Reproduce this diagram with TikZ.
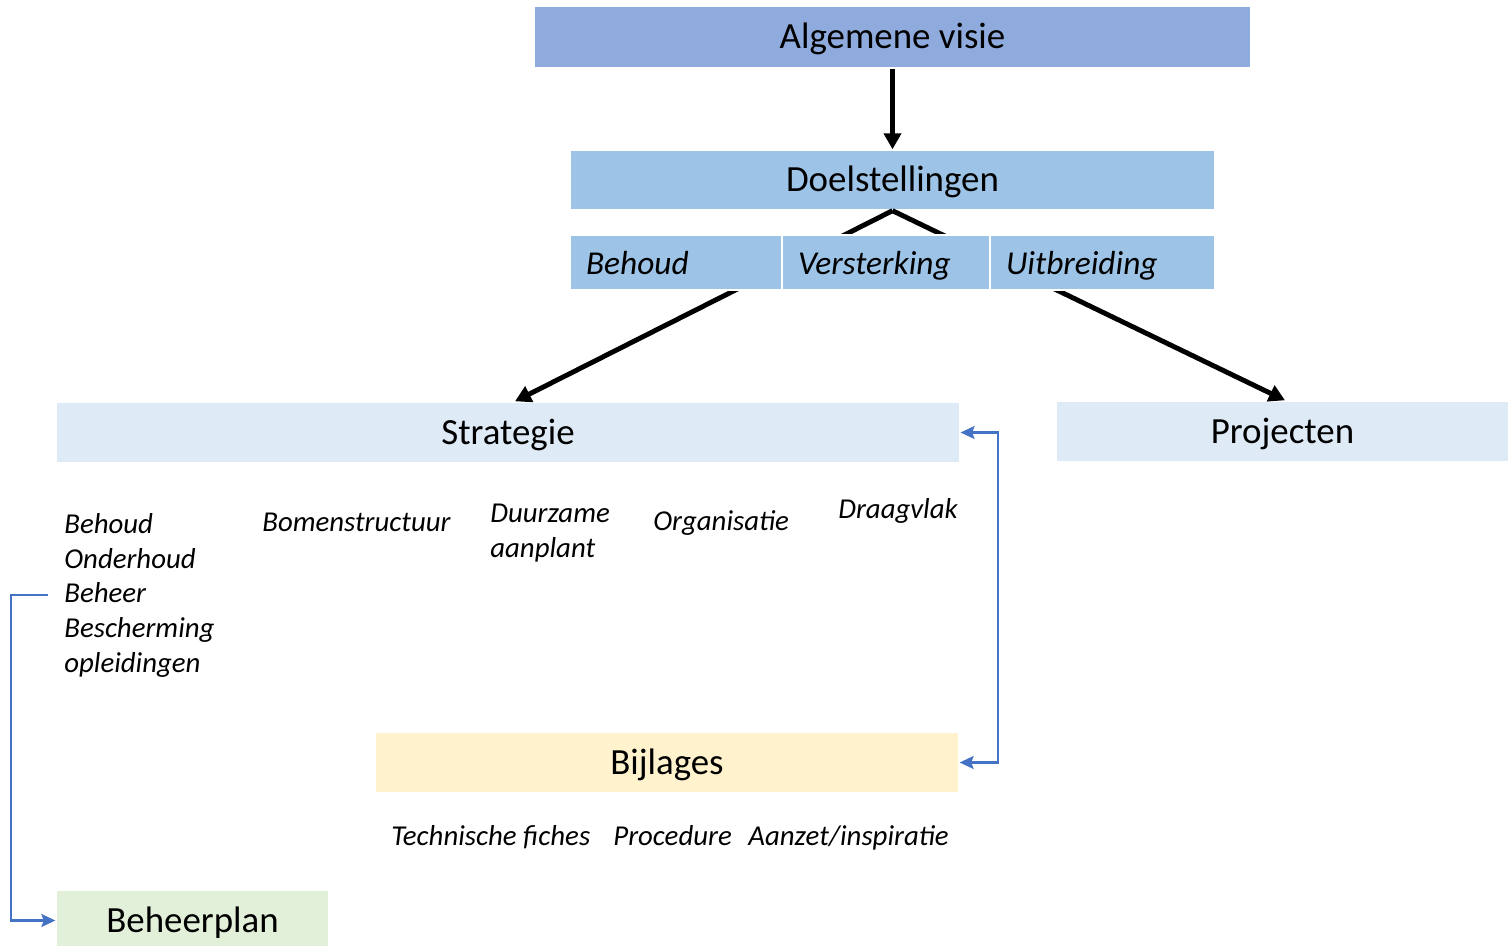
\documentclass[tikz,border=0pt]{standalone}
\usepackage{fontspec}
\setmainfont{Carlito}
\usetikzlibrary{arrows.meta}
\definecolor{visieblue}{HTML}{8FAADC}
\definecolor{doelblue}{HTML}{9DC3E6}
\definecolor{lightblue}{HTML}{DEEBF7}
\definecolor{bijlyellow}{HTML}{FFF2CC}
\definecolor{plangreen}{HTML}{E2F0D9}
\definecolor{linkblue}{HTML}{4472C4}
\tikzset{
  box/.style={fill=#1, draw=white, line width=0.8pt, inner sep=0pt, minimum height=1.22cm, text height=18pt, text depth=4.5pt, font=\fontsize{21}{25}\selectfont},
  tab/.style={fill=doelblue, draw=white, line width=0.8pt, inner xsep=0.32cm, inner ysep=0pt, minimum height=1.1cm, text height=17.5pt, text depth=4pt, align=left, font=\fontsize{19}{22}\selectfont\itshape},
  item/.style={inner sep=0pt, align=left, font=\fontsize{16.4}{19.8}\selectfont\itshape},
  flow/.style={line width=2.8pt, -{Triangle[length=3.2mm,width=3.4mm]}},
  link/.style={line width=1.2pt, linkblue, arrows={-Stealth[length=2.8mm,width=2.6mm,inset=0.5mm]}}
}
\begin{document}
\begin{tikzpicture}[x=0.02cm, y=-0.02cm]
\useasboundingbox (0,0) rectangle (1509,946);
% main boxes
\node[box=visieblue, minimum width=14.34cm, minimum height=1.24cm] (visie) at (892.5,37) {Algemene visie};
\node[box=doelblue, minimum width=12.9cm, minimum height=1.2cm] (doel) at (892.5,180) {Doelstellingen};
\node[box=lightblue, minimum width=18.08cm] (strat) at (508,432.5) {Strategie};
\node[box=lightblue, minimum width=9.06cm] (proj) at (1282.5,431.5) {Projecten};
\node[box=bijlyellow, minimum width=11.68cm] (bijl) at (667,762.5) {Bijlages};
\node[box=plangreen, minimum width=5.46cm] (plan) at (192.5,920.5) {Beheerplan};
% arrows
\draw[flow] (visie.south) -- (doel.north);
\draw[flow] (doel.south) -- ([xshift=0.14cm]strat.north);
\draw[flow] (doel.south) -- ([xshift=0.05cm]proj.north);
% tabs over the arrows
\node[tab, text width=3.6cm] (behoud) at (676,262.5) {Behoud};
\node[tab, text width=3.52cm] (verst) at (886,262.5) {Versterking};
\node[tab, text width=3.86cm] (uitbr) at (1102.5,262.5) {Uitbreiding};
% strategy items
\node[item, anchor=north west] (lijst) at (64,513) {Behoud\\Onderhoud\\Beheer\\Bescherming\\opleidingen};
\node[item, anchor=base west] (bomen) at (262,531) {Bomenstructuur};
\node[item, anchor=north west] (duurz) at (490,504) {Duurzame\\aanplant};
\node[item, anchor=base west] (organ) at (653,530) {Organisatie};
\node[item, anchor=base west] (draag) at (838,518) {Draagvlak};
% bijlages items
\node[item, anchor=base west] (fiches) at (391,845) {Technische fiches};
\node[item, anchor=base west] (proc) at (613,845) {Procedure};
\node[item, anchor=base west] (aanzet) at (748,845) {Aanzet/inspiratie};
% blue links
\draw[link, arrows={Stealth[length=2.8mm,width=2.6mm,inset=0.5mm]-Stealth[length=2.8mm,width=2.6mm,inset=0.5mm]}] (strat.east) -- ++(37,0) |- (bijl.east);
\coordinate (beheer) at (48,595);
\draw[link] (beheer) -- ++(-37,0) |- (plan.west);
\end{tikzpicture}
\end{document}
